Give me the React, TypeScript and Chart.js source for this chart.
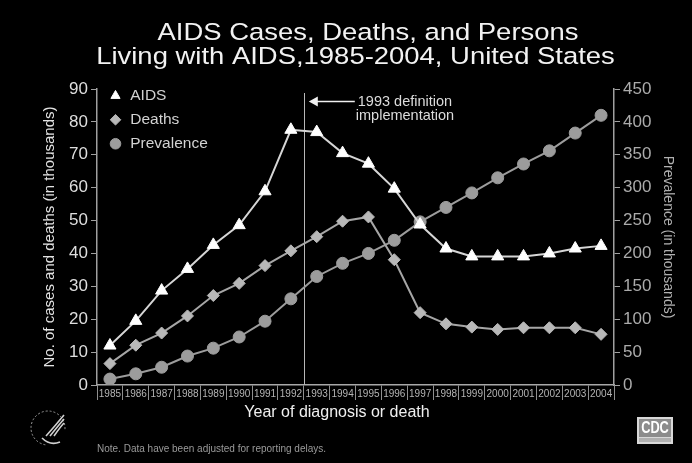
import React, { useEffect, useRef } from 'react';
import { Chart, registerables } from 'chart.js';

Chart.register(...registerables);

const FONT = '"Liberation Sans", Arial, Helvetica, sans-serif';

const titleLines = ['AIDS Cases, Deaths, and Persons', 'Living with AIDS,1985-2004, United States'];
const years = ['1985', '1986', '1987', '1988', '1989', '1990', '1991', '1992', '1993', '1994',
  '1995', '1996', '1997', '1998', '1999', '2000', '2001', '2002', '2003', '2004'];
const aidsCases = [12, 19.5, 28.7, 35.3, 42.6, 48.6, 58.9, 77.6, 76.9, 70.5, 67.3, 59.7, 48.8, 41.5, 39.1, 39.1, 39.1, 40, 41.5, 42.3];
const deaths = [6.5, 12.1, 15.8, 21.0, 27.2, 30.9, 36.3, 40.8, 45.1, 49.8, 51.1, 38.1, 22.0, 18.6, 17.6, 16.9, 17.4, 17.4, 17.4, 15.4];
const prevalence = [9, 17, 27, 44, 56, 73, 97, 131, 165, 185, 200, 220, 248, 270, 292, 315, 336, 356, 383, 410];
const seriesNames = ['AIDS', 'Deaths', 'Prevalence'];
const leftAxisTitle = 'No. of cases and deaths (in thousands)';
const rightAxisTitle = 'Prevalence (in thousands)';
const xAxisTitle = 'Year of diagnosis or death';
const noteText = 'Note. Data have been adjusted for reporting delays.';
const annotationLines = ['1993 definition', 'implementation'];
const definitionYearIndex = 8; // 1993

const decorPlugin = {
  id: 'decor',
  afterLayout(chart: any) {
    const lg = chart.legend;
    const ca = chart.chartArea;
    if (lg && ca) {
      const w = lg.width;
      const h = lg.height;
      lg.left = ca.left + 3;
      lg.top = ca.top - 9.5;
      lg.right = lg.left + w;
      lg.bottom = lg.top + h;
    }
  },
  beforeDatasetsDraw(chart: any) {
    const { ctx, chartArea, scales } = chart;
    const xs = scales.x;
    const lineX = Math.round((xs.getPixelForValue(definitionYearIndex - 1) + xs.getPixelForValue(definitionYearIndex)) / 2) + 0.5;
    ctx.save();
    ctx.strokeStyle = '#b8b8b8';
    ctx.lineWidth = 1;
    ctx.beginPath();
    ctx.moveTo(lineX, chartArea.top + 4);
    ctx.lineTo(lineX, chartArea.bottom);
    ctx.stroke();
    ctx.restore();
  },
  afterDraw(chart: any) {
    const { ctx, chartArea, scales } = chart;
    const xs = scales.x;
    const lineX = (xs.getPixelForValue(definitionYearIndex - 1) + xs.getPixelForValue(definitionYearIndex)) / 2;
    ctx.save();
    // chart title
    ctx.fillStyle = '#f2f2f2';
    ctx.textAlign = 'center';
    ctx.textBaseline = 'alphabetic';
    ctx.font = `24.5px ${FONT}`;
    const cx = (chartArea.left + chartArea.right) / 2;
    ctx.save();
    ctx.translate(cx + 12.5, 40);
    ctx.scale(1.12, 1);
    ctx.fillText(titleLines[0], 0, 0);
    ctx.restore();
    ctx.save();
    ctx.translate(cx, 64);
    ctx.scale(1.12, 1);
    ctx.fillText(titleLines[1], 0, 0);
    ctx.restore();

    // arrow + annotation
    const ay = chartArea.top + 12.5;
    ctx.strokeStyle = '#f0f0f0';
    ctx.fillStyle = '#f0f0f0';
    ctx.lineWidth = 1.5;
    ctx.beginPath();
    ctx.moveTo(lineX + 51, ay);
    ctx.lineTo(lineX + 8, ay);
    ctx.stroke();
    ctx.beginPath();
    ctx.moveTo(lineX + 5, ay);
    ctx.lineTo(lineX + 14, ay - 5);
    ctx.lineTo(lineX + 14, ay + 5);
    ctx.closePath();
    ctx.fill();
    ctx.fillStyle = '#dcdcdc';
    ctx.font = `14.5px ${FONT}`;
    ctx.textBaseline = 'middle';
    ctx.textAlign = 'left';
    ctx.fillText(annotationLines[0], lineX + 54, ay);
    ctx.fillText(annotationLines[1], lineX + 52, ay + 14);

    // x axis title
    ctx.fillStyle = '#f0f0f0';
    ctx.font = `16px ${FONT}`;
    ctx.textAlign = 'center';
    ctx.fillText(xAxisTitle, 337, chartArea.bottom + 28);

    // note
    ctx.fillStyle = '#9a9a9a';
    ctx.font = `10px ${FONT}`;
    ctx.textAlign = 'left';
    ctx.fillText(noteText, chartArea.left, chartArea.bottom + 64);

    // CDC logo
    const lx = 637, ly = 417;
    ctx.fillStyle = '#d8d8d8';
    ctx.fillRect(lx, ly, 36, 27);
    ctx.fillStyle = '#8c8c8c';
    ctx.fillRect(lx + 2, ly + 2, 32, 18);
    ctx.fillStyle = '#b0b0b0';
    ctx.fillRect(lx + 2, ly + 21, 32, 4);
    ctx.fillStyle = '#ffffff';
    ctx.font = `bold 16px ${FONT}`;
    ctx.textAlign = 'center';
    ctx.textBaseline = 'middle';
    ctx.save();
    ctx.translate(lx + 18, ly + 11.5);
    ctx.scale(0.8, 1);
    ctx.fillText('CDC', 0, 0);
    ctx.restore();

    // HHS emblem (simplified)
    ctx.strokeStyle = '#9a9a9a';
    ctx.lineWidth = 1;
    ctx.setLineDash([2, 2]);
    ctx.beginPath();
    ctx.arc(48, 428, 17, Math.PI * 0.55, Math.PI * 2.05);
    ctx.stroke();
    ctx.setLineDash([]);
    ctx.strokeStyle = '#d0d0d0';
    ctx.lineWidth = 1.6;
    for (let i = 0; i < 3; i++) {
      ctx.beginPath();
      ctx.moveTo(46 + i * 4, 436);
      ctx.quadraticCurveTo(55 + i * 3, 426, 64, 415 + i * 4);
      ctx.stroke();
    }
    ctx.beginPath();
    ctx.moveTo(42, 438);
    ctx.quadraticCurveTo(50, 446, 60, 442);
    ctx.stroke();
    ctx.restore();
  },
};

export default function App() {
  const canvasRef = useRef<HTMLCanvasElement | null>(null);

  useEffect(() => {
    if (!canvasRef.current) return;
    const chart = new Chart(canvasRef.current, {
      type: 'line',
      data: {
        labels: years,
        datasets: [
          {
            label: seriesNames[0],
            data: aidsCases,
            yAxisID: 'y',
            borderColor: '#d6d6d6',
            backgroundColor: '#ffffff',
            pointBackgroundColor: '#ffffff',
            pointBorderColor: '#ffffff',
            pointStyle: 'triangle',
            pointRadius: 7,
            pointBorderWidth: 1,
            borderWidth: 2,
            tension: 0,
          },
          {
            label: seriesNames[1],
            data: deaths,
            yAxisID: 'y',
            borderColor: '#a6a6a6',
            backgroundColor: '#b8b8b8',
            pointBackgroundColor: '#b8b8b8',
            pointBorderColor: '#b8b8b8',
            pointStyle: 'rectRot',
            pointRadius: 6,
            pointBorderWidth: 1,
            borderWidth: 2,
            tension: 0,
          },
          {
            label: seriesNames[2],
            data: prevalence,
            yAxisID: 'y1',
            borderColor: '#9c9c9c',
            backgroundColor: '#9c9c9c',
            pointBackgroundColor: '#9c9c9c',
            pointBorderColor: '#9c9c9c',
            pointStyle: 'circle',
            pointRadius: 6,
            pointBorderWidth: 1,
            borderWidth: 2,
            tension: 0,
          },
        ],
      },
      options: {
        responsive: false,
        animation: false,
        devicePixelRatio: 1,
        layout: { padding: { top: 89, left: 0, right: 0, bottom: 0 } },
        font: { family: FONT },
        plugins: {
          title: { display: false },
          tooltip: { enabled: false },
          legend: {
            display: true,
            position: 'chartArea',
            align: 'start',
            labels: {
              usePointStyle: true,
              boxWidth: 14,
              boxHeight: 7.5,
              padding: 8.5,
              color: '#d2d2d2',
              font: { family: FONT, size: 15.5 },
            },
          },
        },
        scales: {
          x: {
            offset: true,
            grid: {
              offset: true,
              drawOnChartArea: false,
              drawTicks: true,
              tickLength: 15,
              color: '#8f8f8f',
              lineWidth: 1,
            },
            border: { display: true, color: '#a8a8a8', width: 1.5 },
            ticks: {
              color: '#b4b4b4',
              font: { family: FONT, size: 10 },
              padding: -12,
              maxRotation: 0,
              autoSkip: false,
            },
            afterFit: (s: any) => { s.height = 78; },
          },
          y: {
            position: 'left',
            min: 0,
            max: 90,
            ticks: {
              stepSize: 10,
              color: '#dedede',
              font: { family: FONT, size: 17 },
              padding: 3,
            },
            grid: { drawOnChartArea: false, drawTicks: true, tickLength: 6, color: '#a0a0a0' },
            border: { display: true, color: '#a0a0a0', width: 1.5 },
            title: {
              display: true,
              text: leftAxisTitle,
              color: '#e2e2e2',
              font: { family: FONT, size: 15 },
              padding: { top: 41, bottom: 0 },
            },
            afterFit: (s: any) => { s.width = 97; },
          },
          y1: {
            position: 'right',
            min: 0,
            max: 450,
            ticks: {
              stepSize: 50,
              color: '#ababab',
              font: { family: FONT, size: 17 },
              padding: 3,
            },
            grid: { drawOnChartArea: false, drawTicks: true, tickLength: 6, color: '#a0a0a0' },
            border: { display: true, color: '#a0a0a0', width: 1.5 },
            title: {
              display: true,
              text: rightAxisTitle,
              color: '#b0b0b0',
              font: { family: FONT, size: 14 },
              padding: { top: 16, bottom: 0 },
            },
            afterFit: (s: any) => { s.width = 78; },
          },
        },
      },
      plugins: [decorPlugin],
    } as any);
    return () => chart.destroy();
  }, []);

  return (
    <div style={{ position: 'fixed', left: 0, top: 0, width: 692, height: 463, background: '#000' }}>
      <canvas ref={canvasRef} width={692} height={463} style={{ display: 'block', width: 692, height: 463 }} />
    </div>
  );
}
